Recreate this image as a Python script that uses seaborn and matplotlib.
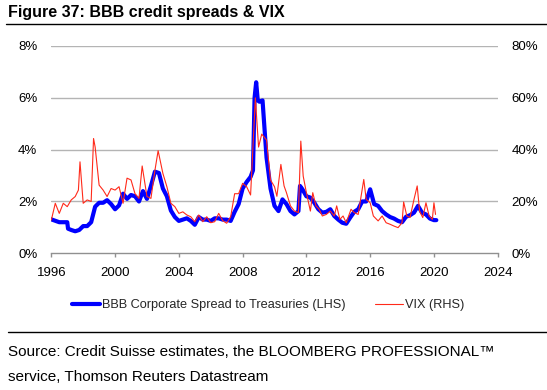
import matplotlib
matplotlib.use("Agg")
import matplotlib.pyplot as plt
import seaborn as sns
import pandas as pd
from matplotlib.lines import Line2D

# ---- data ----
bbb_dates = [1996.0, 1996.5, 1997.0, 1997.05, 1997.25, 1997.5, 1997.75, 1998.0, 1998.25, 1998.5,
             1998.75, 1999.0, 1999.25, 1999.5, 1999.75, 2000.0, 2000.25, 2000.5, 2000.75, 2001.0,
             2001.25, 2001.5, 2001.75, 2002.0, 2002.25, 2002.5, 2002.75, 2003.0, 2003.25, 2003.5,
             2003.75, 2004.0, 2004.25, 2004.5, 2004.75, 2005.0, 2005.25, 2005.5, 2005.75, 2006.0,
             2006.25, 2006.5, 2006.75, 2007.0, 2007.25, 2007.5, 2007.75, 2008.0, 2008.25, 2008.5,
             2008.65, 2008.75, 2008.85, 2008.95, 2009.05, 2009.25, 2009.5, 2009.75, 2010.0, 2010.25,
             2010.5, 2010.75, 2011.0, 2011.25, 2011.5, 2011.6, 2011.75, 2012.0, 2012.25, 2012.5,
             2012.75, 2013.0, 2013.25, 2013.5, 2013.75, 2014.0, 2014.25, 2014.5, 2014.75, 2015.0,
             2015.25, 2015.5, 2015.75, 2016.0, 2016.25, 2016.5, 2016.75, 2017.0, 2017.25, 2017.5,
             2017.75, 2018.0, 2018.25, 2018.5, 2018.75, 2019.0, 2019.25, 2019.5, 2019.75, 2020.0,
             2020.15]
bbb_spread = [1.31, 1.2, 1.2, 0.95, 0.9, 0.85, 0.9, 1.05, 1.05, 1.2,
              1.8, 1.95, 1.95, 2.05, 1.9, 1.7, 1.85, 2.3, 2.1, 2.25,
              2.2, 2.0, 2.4, 2.1, 2.6, 3.15, 3.1, 2.5, 2.2, 1.65,
              1.4, 1.25, 1.3, 1.35, 1.25, 1.1, 1.4, 1.3, 1.3, 1.25,
              1.35, 1.35, 1.3, 1.3, 1.25, 1.6, 1.9, 2.5, 2.75, 2.95,
              3.2, 6.0, 6.6, 5.9, 5.85, 5.9, 3.7, 2.5, 1.83, 1.63,
              2.08, 1.9, 1.63, 1.5, 1.63, 2.6, 2.47, 2.2, 2.15, 1.95,
              1.7, 1.57, 1.6, 1.7, 1.44, 1.3, 1.18, 1.14, 1.38, 1.6,
              1.7, 2.0, 2.0, 2.47, 1.9, 1.83, 1.63, 1.5, 1.4, 1.34,
              1.25, 1.2, 1.41, 1.47, 1.57, 1.83, 1.57, 1.5, 1.34, 1.28,
              1.28]

vix_dates = [1996.0, 1996.25, 1996.5, 1996.75, 1997.0, 1997.25, 1997.5, 1997.7, 1997.8, 1998.0,
             1998.25, 1998.5, 1998.65, 1998.75, 1999.0, 1999.25, 1999.5, 1999.75, 2000.0, 2000.25,
             2000.5, 2000.75, 2001.0, 2001.25, 2001.5, 2001.7, 2002.0, 2002.25, 2002.5, 2002.7,
             2003.0, 2003.25, 2003.5, 2003.75, 2004.0, 2004.25, 2004.5, 2004.75, 2005.0, 2005.25,
             2005.5, 2005.75, 2006.0, 2006.25, 2006.5, 2006.75, 2007.0, 2007.25, 2007.5, 2007.75,
             2008.0, 2008.25, 2008.5, 2008.8, 2009.0, 2009.2, 2009.5, 2009.75, 2010.0, 2010.15,
             2010.4, 2010.6, 2010.75, 2011.0, 2011.25, 2011.5, 2011.65, 2011.8, 2012.0, 2012.25,
             2012.4, 2012.6, 2012.8, 2013.0, 2013.25, 2013.5, 2013.75, 2013.9, 2014.1, 2014.3,
             2014.5, 2014.8, 2015.0, 2015.25, 2015.4, 2015.6, 2015.75, 2016.0, 2016.2, 2016.5,
             2016.75, 2017.0, 2017.25, 2017.5, 2017.75, 2018.0, 2018.1, 2018.3, 2018.5, 2018.75,
             2018.95, 2019.1, 2019.3, 2019.5, 2019.7, 2019.9, 2020.0, 2020.1]
vix_level = [12.8, 19.3, 15.4, 19.3, 18.0, 20.6, 21.9, 24.4, 35.3, 19.3,
             20.6, 20.0, 44.3, 41.0, 26.3, 24.4, 21.9, 25.0, 24.4, 25.7,
             19.3, 29.0, 28.3, 23.0, 21.2, 33.7, 21.9, 21.2, 32.0, 39.6,
             30.8, 25.7, 19.3, 18.0, 15.4, 16.0, 14.8, 14.1, 12.2, 14.8,
             12.2, 14.1, 11.8, 12.2, 15.4, 12.6, 11.6, 14.1, 23.0, 23.0,
             27.0, 25.7, 22.5, 60.0, 41.0, 46.0, 43.7, 28.3, 25.7, 22.0,
             34.3, 26.0, 23.4, 18.3, 16.3, 15.7, 43.3, 29.8, 23.4, 16.3,
             23.4, 18.3, 17.0, 14.4, 15.0, 16.3, 14.4, 18.3, 13.1, 14.4,
             11.8, 17.0, 15.7, 15.0, 20.8, 28.5, 20.8, 19.5, 14.4, 12.5,
             14.4, 11.8, 11.2, 10.5, 9.9, 11.8, 19.8, 14.4, 13.8, 20.8,
             26.0, 16.3, 13.8, 19.5, 14.4, 13.1, 19.5, 15.0]

x_ticks = [1996, 2000, 2004, 2008, 2012, 2016, 2020, 2024]
left_ticks = [0, 2, 4, 6, 8]
right_ticks = [0, 20, 40, 60, 80]

title = "Figure 37: BBB credit spreads & VIX"
bbb_label = "BBB Corporate Spread to Treasuries (LHS)"
vix_label = "VIX (RHS)"
source_lines = ["Source: Credit Suisse estimates, the BLOOMBERG PROFESSIONAL\u2122",
                "service, Thomson Reuters Datastream"]

bbb_df = pd.DataFrame({"date": bbb_dates, "spread": bbb_spread})
vix_df = pd.DataFrame({"date": vix_dates, "vix": vix_level})

sns.set_theme(style="white")
plt.rcParams["font.family"] = ["Liberation Sans", "DejaVu Sans"]

W, H = 547, 390
fig = plt.figure(figsize=(W / 100, H / 100), dpi=100)
ax = fig.add_axes([51.3 / W, 1 - 253.3 / H, (497.7 - 51.3) / W, (253.3 - 46) / H])
ax2 = ax.twinx()

BLUE = "#0000ff"
RED = "#ff2a1a"
GRID = "#b4b4b4"

sns.lineplot(data=bbb_df, x="date", y="spread", ax=ax, color=BLUE, linewidth=3.0, legend=False)
sns.lineplot(data=vix_df, x="date", y="vix", ax=ax2, color=RED, linewidth=0.8, legend=False)

ax.set_xlim(1996, 2024)
ax.set_ylim(0, 8)
ax2.set_ylim(0, 80)
ax.set_xticks(x_ticks)
ax.set_xticklabels([str(t) for t in x_ticks])
ax.set_yticks(left_ticks)
ax.set_yticklabels([f"{t}%" for t in left_ticks])
ax2.set_yticks(right_ticks)
ax2.set_yticklabels([f"{t}%" for t in right_ticks])
ax.set_xlabel("")
ax.set_ylabel("")
ax2.set_ylabel("")

for a in (ax, ax2):
    for s in ("left", "right", "top", "bottom"):
        a.spines[s].set_visible(False)

ax.grid(False)
ax2.grid(False)
for t in left_ticks[1:]:
    ax.axhline(t, color=GRID, linewidth=1.0, zorder=0)
ax.spines["bottom"].set_visible(True)
ax.spines["bottom"].set_color("#909090")
ax.spines["bottom"].set_linewidth(1.0)

ax.tick_params(axis="x", which="major", bottom=True, direction="out", length=3, width=1.0,
               color="#909090", labelsize=9.5, labelcolor="black", pad=7)
ax.tick_params(axis="y", left=False, length=0, labelsize=9.5, labelcolor="black", pad=10)
ax2.tick_params(axis="y", right=False, length=0, labelsize=9.5, labelcolor="black", pad=10)

# title and rules
fig.text(8 / W, 1 - 13 / H, title, fontsize=11.5, fontweight="bold", ha="left", va="center", color="black")
fig.add_artist(Line2D([6 / W, 1.0], [1 - 24 / H, 1 - 24 / H], color="black", linewidth=1.0))
fig.add_artist(Line2D([8 / W, 1.0], [1 - 332 / H, 1 - 332 / H], color="black", linewidth=1.0))

handles = [Line2D([], [], color=BLUE, linewidth=3.0), Line2D([], [], color=RED, linewidth=0.8)]
fig.legend(handles, [bbb_label, vix_label], loc="center", bbox_to_anchor=(268.5 / W, 1 - 305 / H),
           ncol=2, frameon=False, fontsize=9.2, handlelength=2.2, handletextpad=0.15,
           columnspacing=2.3, borderaxespad=0, borderpad=0)

fig.text(8 / W, 1 - 352 / H, source_lines[0], fontsize=11, ha="left", va="center", color="black")
fig.text(8 / W, 1 - 377 / H, source_lines[1], fontsize=11, ha="left", va="center", color="black")
fig.savefig("out.png", dpi=100)
